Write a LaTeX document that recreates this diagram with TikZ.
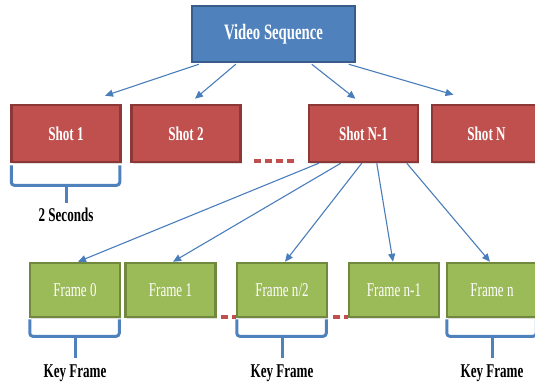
\documentclass[tikz,border=0pt]{standalone}
\usepackage{fontspec}
\setmainfont{Liberation Serif}[FakeStretch=0.67]
\usetikzlibrary{arrows.meta,shadows}

\definecolor{seqfill}{HTML}{4F81BD}
\definecolor{seqline}{HTML}{385D8A}
\definecolor{shotfill}{HTML}{C0504D}
\definecolor{shotline}{HTML}{8C3836}
\definecolor{framefill}{HTML}{9BBB59}
\definecolor{frameline}{HTML}{71893F}
\definecolor{linkblue}{HTML}{4A7EBB}

\tikzset{
  box/.style={rectangle, line width=2.5pt, text=white, inner sep=0pt,
    drop shadow={opacity=0.25, shadow xshift=1pt, shadow yshift=-1.5pt}},
  seqbox/.style={box, fill=seqfill, draw=seqline, minimum width=163pt,
    minimum height=56pt, font=\fontsize{22}{26}\selectfont\bfseries},
  shotbox/.style={box, fill=shotfill, draw=shotline, minimum width=109pt,
    minimum height=57pt, font=\fontsize{19.5}{23}\selectfont\bfseries},
  framebox/.style={box, fill=framefill, draw=frameline, minimum width=90pt,
    minimum height=54pt, font=\fontsize{19.5}{23}\selectfont},
  link/.style={draw=linkblue, line width=1.1pt,
    -{Triangle[length=8pt,width=7pt]}},
  bracket/.style={draw=seqfill, line width=3pt, rounded corners=3pt},
  gap/.style={draw=shotfill, line width=4pt, dash pattern=on 7pt off 4pt},
  caption/.style={font=\fontsize{19.5}{23}\selectfont\bfseries, text=black}
}

\begin{document}
\begin{tikzpicture}[x=1pt, y=-1pt]
\useasboundingbox (0,0) rectangle (535,385);

% top level
\node[seqbox] (vs) at (273.5,34) {Video Sequence};

% shots
\node[shotbox] (s1)  at (66,133.5)    {Shot 1};
\node[shotbox] (s2)  at (186,133.5)   {Shot 2};
\node[shotbox] (sn1) at (363.5,133.5) {Shot N-1};
\node[shotbox] (sn)  at (486.5,133.5) {Shot N};

% frames
\node[framebox] (f0)  at (75,290)    {Frame 0};
\node[framebox] (f1)  at (170.5,290) {Frame 1};
\node[framebox] (fh)  at (282,290)   {Frame n/2};
\node[framebox] (fn1) at (394,290)   {Frame n-1};
\node[framebox] (fn)  at (492,290)   {Frame n};

% sequence to shots
\draw[link] ([xshift=8pt,yshift=-1pt]vs.south west)   -- ([xshift=39pt,yshift=8pt]s1.north);
\draw[link] ([xshift=45pt,yshift=-1pt]vs.south west)  -- ([xshift=9pt,yshift=5pt]s2.north);
\draw[link] ([xshift=121pt,yshift=-1pt]vs.south west) -- ([xshift=-8pt,yshift=5pt]sn1.north);
\draw[link] ([xshift=158pt,yshift=-1pt]vs.south west) -- ([xshift=-33pt,yshift=9pt]sn.north);

% shot to frames
\draw[link] ([xshift=11pt]sn1.south west) -- ([xshift=3pt]f0.north);
\draw[link] ([xshift=33pt]sn1.south west) -- ([xshift=2.5pt]f1.north);
\draw[link] ([xshift=54pt]sn1.south west) -- ([xshift=3pt]fh.north);
\draw[link] ([xshift=69pt]sn1.south west) -- ([xshift=-1pt]fn1.north);
\draw[link] ([xshift=99pt]sn1.south west) -- ([xshift=-2pt]fn.north);

% omitted items
\draw[gap] ([xshift=12pt,yshift=2pt]s2.south east) -- ([xshift=-12pt,yshift=2pt]sn1.south west);
\draw[gap] ([xshift=4pt,yshift=1pt]f1.south east) -- ([yshift=1pt]fh.south west);
\draw[gap] ([xshift=5pt,yshift=1pt]fh.south east) -- ([yshift=1pt]fn1.south west);

% bracket under the first shot
\draw[bracket] ([xshift=1pt,yshift=-2pt]s1.south west) |- ([yshift=-22pt]s1.south)
  -| ([xshift=-2pt,yshift=-2pt]s1.south east);
\draw[bracket] ([yshift=-22pt]s1.south) -- ++(0,18) coordinate (s1tip);
\node[caption] (sec) at ([yshift=-12pt]s1tip) {2 Seconds};

% brackets under the key frames
\foreach \f in {f0,fh,fn}{
  \draw[bracket] ([xshift=1pt,yshift=-1pt]\f.south west) |- ([yshift=-18pt]\f.south)
    -| ([xshift=-2pt,yshift=-1pt]\f.south east);
  \draw[bracket] ([yshift=-18pt]\f.south) -- ++(0,22) coordinate (\f tip);
  \node[caption] (\f key) at ([yshift=-15pt]\f tip) {Key Frame};
}
\end{tikzpicture}
\end{document}
